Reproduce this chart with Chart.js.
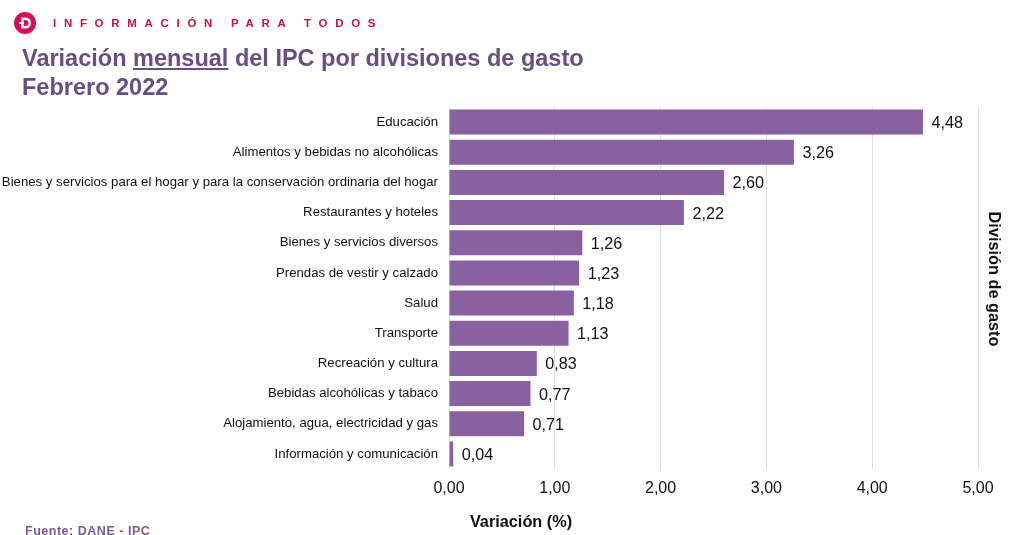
<!DOCTYPE html>
<html lang="es"><head><meta charset="utf-8">
<script src="https://cdn.jsdelivr.net/npm/chart.js@4"></script>
<style>
html,body{margin:0;padding:0;background:#fff;width:1014px;height:535px;overflow:hidden;font-family:"Liberation Sans",Arial,sans-serif}
#wrap{position:absolute;left:0;top:0;width:1014px;height:535px}
.t{position:absolute;white-space:nowrap}
#brand{left:53px;top:15px;font-size:11.5px;font-weight:bold;color:#c8104e;letter-spacing:7.7px;line-height:16px}
#title{left:22px;top:44px;font-size:23.5px;font-weight:bold;color:#664f82;line-height:28.5px}
#src{left:25px;top:523px;font-size:12.5px;font-weight:bold;color:#7a5c94;line-height:16px;letter-spacing:.52px}
#logo{position:absolute;left:13px;top:11px}
</style></head><body>
<div id="wrap"><canvas id="c" width="1014" height="535"></canvas></div>
<svg id="logo" width="24" height="24" viewBox="0 0 24 24"><circle cx="12" cy="12" r="11" fill="#d80f50"/><path d="M8 6.5h4.5a5.5 5.5 0 0 1 0 11H8z M10.6 9v6h1.9a3 3 0 0 0 0-6z" fill="#fff" fill-rule="evenodd"/><rect x="6" y="11" width="5" height="2" fill="#fff"/></svg>
<div class="t" id="brand">INFORMACIÓN PARA TODOS</div>
<div class="t" id="title">Variación <u>mensual</u> del IPC por divisiones de gasto<br>Febrero 2022</div>
<div class="t" id="src">Fuente: DANE - IPC</div>
<script>
const categories = ["Educación","Alimentos y bebidas no alcohólicas","Bienes y servicios para el hogar y para la conservación ordinaria del hogar","Restaurantes y hoteles","Bienes y servicios diversos","Prendas de vestir y calzado","Salud","Transporte","Recreación y cultura","Bebidas alcohólicas y tabaco","Alojamiento, agua, electricidad y gas","Información y comunicación"];
const values = [4.48,3.26,2.60,2.22,1.26,1.23,1.18,1.13,0.83,0.77,0.71,0.04];
const xTicks = [0,1,2,3,4,5];
const xTitle = 'Variación (%)';
const yTitle = 'División de gasto';
const fmt = v => v.toFixed(2).replace('.',',');
const FONT = '"Liberation Sans",Arial,sans-serif';
const valueLabels = {
  id:'valueLabels',
  afterDatasetsDraw(chart){
    const {ctx} = chart;
    ctx.save();
    ctx.font = '16.2px '+FONT; ctx.fillStyle='#111'; ctx.textBaseline='middle'; ctx.textAlign='left';
    chart.getDatasetMeta(0).data.forEach((b,i)=>ctx.fillText(fmt(values[i]), b.x+8.5, b.y+1.5));
    ctx.restore();
  }
};
const axisTitles = {
  id:'axisTitles',
  afterDraw(chart){
    const {ctx} = chart;
    ctx.save();
    ctx.font = 'bold 16.3px '+FONT; ctx.fillStyle='#111'; ctx.textAlign='center'; ctx.textBaseline='middle';
    ctx.fillText(xTitle, 521, 522.5);
    ctx.translate(993, 279); ctx.rotate(Math.PI/2);
    ctx.fillText(yTitle, 0, 0);
    ctx.restore();
  }
};
new Chart(document.getElementById('c'),{
  type:'bar',
  data:{labels:categories,datasets:[{data:values,backgroundColor:'#8961a0',barPercentage:0.83,categoryPercentage:1}]},
  plugins:[valueLabels,axisTitles],
  options:{
    indexAxis:'y',responsive:false,animation:false,
    layout:{padding:{top:107,right:36,bottom:0,left:0}},
    plugins:{legend:{display:false},tooltip:{enabled:false}},
    scales:{
      x:{min:0,max:5,position:'bottom',
        afterBuildTicks(a){a.ticks=xTicks.map(v=>({value:v}));},
        afterFit(a){a.height=66;},
        grid:{color:'#dedede',lineWidth:1,drawTicks:false},border:{display:false},
        ticks:{color:'#111',font:{family:FONT,size:16},padding:10,maxRotation:0,callback:v=>fmt(v)}},
      y:{position:'left',afterFit(a){a.width=449;},
        grid:{display:false},border:{display:false},
        ticks:{color:'#111',font:{family:FONT,size:13.2},padding:3,autoSkip:false}}
    }
  }
});
</script>
</body></html>
